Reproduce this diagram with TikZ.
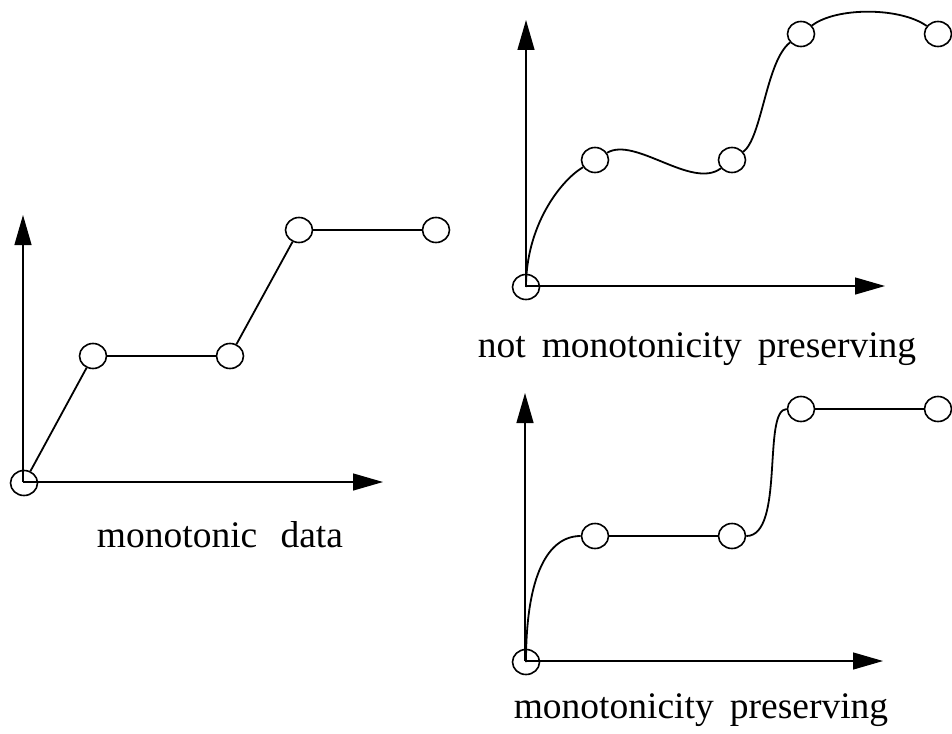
\documentclass[tikz,border=0pt]{standalone}
\usepackage{fontspec}
\setmainfont{Liberation Serif}
\usetikzlibrary{arrows.meta,shapes.geometric}
\begin{document}
\begin{tikzpicture}[x=1pt,y=-1pt,
  axis/.style={line width=1.3pt,-{Triangle[length=30pt,width=17pt]}},
  knot/.style={ellipse,draw,line width=1.6pt,fill=white,inner sep=0pt,
               minimum width=27pt,minimum height=25pt},
  zero/.style={ellipse,draw,line width=1.6pt,inner sep=0pt,
               minimum width=27pt,minimum height=25pt},
  curve/.style={line width=1.8pt},
  caption/.style={anchor=base,inner sep=0pt,font=\fontsize{37.5}{40}\selectfont}]
\useasboundingbox (0,0) rectangle (952,733);

% ---- monotonic data: piecewise linear ----
\coordinate (la) at (23,482);
\coordinate (lx) at (383,482);
\coordinate (ly) at (23,215);
\draw[axis] (la) -- (lx);
\draw[axis] (la) -- (ly);
\node[zero] (l0) at (24,483) {};
\node[knot] (l1) at (93,356) {};
\node[knot] (l2) at (230,356) {};
\node[knot] (l3) at (299,230) {};
\node[knot] (l4) at (436,230) {};
\draw[curve] (l0) -- (l1);
\draw[curve] (l1) -- (l2);
\draw[curve] (l2) -- (l3);
\draw[curve] (l3) -- (l4);
\node[caption] (lc) at (220,547) {monotonic\hspace{0.62em}data};

% ---- interpolant with overshoot ----
\coordinate (ta) at (526,286);
\coordinate (tx) at (885,286);
\coordinate (ty) at (526,20);
\draw[axis] (ta) -- (tx);
\draw[axis] (ta) -- (ty);
\node[zero] (t0) at (526,287) {};
\node[knot] (t1) at (595,160) {};
\node[knot] (t2) at (732,160) {};
\node[knot] (t3) at (801,34) {};
\node[knot] (t4) at (938,34) {};
\draw[curve] (t0.center) .. controls (526,226) and (560,181) .. (t1);
\draw[curve] (t1) .. controls (635,136) and (692,190) .. (t2);
\draw[curve] (t2) .. controls (762,138) and (766,61) .. (t3);
\draw[curve] (t3) .. controls (836,7) and (900,7) .. (t4);
\node[caption] (tc) at (697,357) {not\hspace{0.43em}monotonicity\hspace{0.43em}preserving};

% ---- monotone interpolant ----
\coordinate (ba) at (525,661);
\coordinate (bx) at (883,661);
\coordinate (by) at (525,393);
\draw[axis] (ba) -- (bx);
\draw[axis] (ba) -- (by);
\node[zero] (b0) at (526,662) {};
\node[knot] (b1) at (595,536) {};
\node[knot] (b2) at (732,536) {};
\node[knot] (b3) at (801,409) {};
\node[knot] (b4) at (938,409) {};
\draw[curve] (b0.center) .. controls (526,575) and (548,536) .. (b1);
\draw[curve] (b1) -- (b2);
\draw[curve] (b2) .. controls (785,536) and (762,409) .. (b3);
\draw[curve] (b3) -- (b4);
\node[caption] (bc) at (701,718) {monotonicity\hspace{0.43em}preserving};
\end{tikzpicture}
\end{document}
